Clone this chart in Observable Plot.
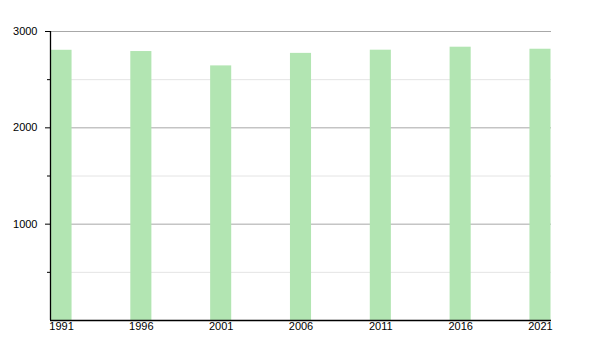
<!DOCTYPE html>
<html>
<head>
<meta charset="utf-8">
<script src="https://cdn.jsdelivr.net/npm/d3@7"></script>
<script src="https://cdn.jsdelivr.net/npm/@observablehq/plot@0.6"></script>
<style>
  html, body { margin: 0; padding: 0; background: #fff; }
  #chart svg { display: block; }
</style>
</head>
<body>
<div id="chart"></div>
<script>
const years = [1991, 1996, 2001, 2006, 2011, 2016, 2021];
const population = [2805, 2792, 2643, 2773, 2806, 2837, 2816];
const majorTicks = [1000, 2000, 3000];
const minorTicks = [500, 1500, 2500];

const data = years.map((y, i) => ({ year: y, value: population[i] }));
const xDomain = [1990.31, 2021.69];
const halfWidth = 0.66;

const chart = Plot.plot({
  width: 600,
  height: 350,
  marginTop: 31,
  marginBottom: 30,
  marginLeft: 50,
  marginRight: 49,
  style: { fontFamily: "'Liberation Sans', Arial, sans-serif", fontSize: "11px", color: "#000", background: "#fff" },
  x: { type: "linear", domain: xDomain },
  y: { domain: [0, 3000] },
  marks: [
    Plot.ruleY(minorTicks, { stroke: "#e4e4e4", strokeWidth: 1 }),
    Plot.ruleY(majorTicks, { stroke: "#a8a8a8", strokeWidth: 1 }),
    Plot.rectY(data, {
      x1: d => d.year - halfWidth,
      x2: d => d.year + halfWidth,
      y1: 0,
      y2: "value",
      fill: "#b2e5b2",
      insetLeft: 0, insetRight: 0
    }),
    Plot.axisY({ ticks: majorTicks, tickSize: 5, tickPadding: 8, tickFormat: "d", label: null, stroke: "#000", strokeOpacity: 1 }),
    Plot.axisY({ ticks: minorTicks, tickSize: 3, text: null, label: null, stroke: "#000", strokeOpacity: 1 }),
    Plot.ruleX([xDomain[0]], { stroke: "#000", strokeWidth: 1.3 }),
    Plot.ruleY([0], { stroke: "#000", strokeWidth: 1.3 }),
    Plot.axisX({ ticks: years, tickSize: 0, tickPadding: 2, tickFormat: "d", label: null })
  ]
});
document.getElementById("chart").append(chart);
</script>
</body>
</html>
